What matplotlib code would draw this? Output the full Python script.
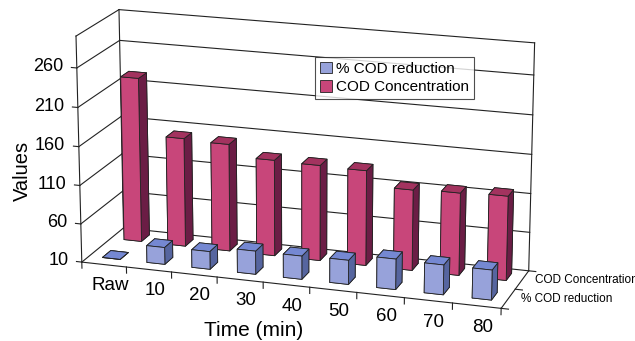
import matplotlib.pyplot as plt
import numpy as np
from matplotlib.patches import Patch

plt.rcParams['font.family'] = ['Liberation Sans', 'DejaVu Sans']

times = ['Raw', '10', '20', '30', '40', '50', '60', '70', '80']
cod_conc = [225, 152, 150, 135, 134, 133, 114, 116, 118]
cod_red = [0, 32, 33, 40, 40, 41, 49, 48, 48]
series = ['% COD reduction', 'COD Concentration']
z_ticks = [10, 60, 110, 160, 210, 260]
z_min, z_max = 10, 300

blue = dict(front='#97A2DA', top='#7588D2', side='#56659F')
pink = dict(front='#C8467A', top='#A3335F', side='#6B1D45')

fig = plt.figure(figsize=(6.35, 3.41), dpi=100)
ax = fig.add_axes([0.077, -0.201, 0.783, 1.457], projection='3d', proj_type='persp', focal_length=1.0)
ax.computed_zorder = False
ax.set_axis_off()
ax.view_init(elev=17, azim=-72)

x0, x1 = -0.5, 8.5
y0, y1 = -0.52, 1.4
ax.set_xlim(x0, x1)
ax.set_ylim(y0, y1)
ax.set_zlim(z_min, z_max)
ax.set_box_aspect((4.4, 1.15, 2.38), zoom=1.0)


def seg(p, q, lw=0.8):
    ax.plot(*zip(p, q), color='#222222', lw=lw, zorder=1, clip_on=False)


# walls and floor
seg((x0, y0, z_min), (x0, y0, z_max))
seg((x0, y0, z_max), (x0, y1, z_max))
seg((x0, y1, z_min), (x0, y1, z_max))
seg((x0, y0, z_min), (x0, y1, z_min))
seg((x0, y1, z_max), (x1, y1, z_max))
seg((x1, y1, z_min), (x1, y1, z_max))
seg((x0, y1, z_min), (x1, y1, z_min))
seg((x0, y0, z_min), (x1, y0, z_min))
seg((x1, y0, z_min), (x1, y1, z_min))

# gridlines on the walls + value ticks
for z in z_ticks[1:]:
    seg((x0, y0, z), (x0, y1, z))
    seg((x0, y1, z), (x1, y1, z))
for z in z_ticks:
    seg((x0 - 0.12, y0, z), (x0, y0, z))
    ax.text(x0 - 0.3, y0, z, str(z), ha='right', va='center', fontsize=13)

# category ticks and labels
for k in range(-1, len(times)):
    seg((k + 0.5, y0, z_min), (k + 0.5, y0, z_min - 8))
for k, lab in enumerate(times):
    ax.text(k + 0.12, y0, z_min - 27, lab, ha='center', va='center', fontsize=13.5)

# series ticks and labels
for yb in (y0, (y0 + y1) / 2, y1):
    seg((x1, yb, z_min), (x1 + 0.15, yb, z_min))
for yi, name in enumerate(series):
    ax.text(x1 + 0.25, yi, z_min, name, ha='left', va='center', fontsize=8.5)

# bars
n = len(times)
xs = np.arange(n)
bw, bd = 0.4, 0.38
bx = np.concatenate([xs, xs]) - bw / 2
by = np.repeat([0, 1], n) - bd / 2
vals = np.array(cod_red + cod_conc, dtype=float)
dz = np.clip(vals - z_min, 0, None)
face_cols = []
for s in [blue] * n + [pink] * n:
    face_cols += [s['top'], s['top'], s['front'], s['front'], s['side'], s['side']]
bars = ax.bar3d(bx, by, np.full(2 * n, z_min), bw, bd, dz, color=face_cols, shade=False,
                edgecolor='#222222', linewidth=0.6, zorder=2)
bars.set_clip_on(False)

fig.text(0.035, 0.5, 'Values', rotation=90, ha='center', va='center', fontsize=14.5)
fig.text(0.40, 0.03, 'Time (min)', ha='center', va='center', fontsize=15)

handles = [Patch(facecolor=blue['front'], edgecolor='#222222', lw=0.6),
           Patch(facecolor=pink['front'], edgecolor='#222222', lw=0.6)]
leg = fig.legend(handles, series, loc='upper left', bbox_to_anchor=(315 / 635, 1 - 57 / 341),
                 fontsize=11, frameon=True, fancybox=False, edgecolor='#222222',
                 handlelength=0.8, handleheight=0.8, handletextpad=0.3,
                 borderpad=0.3, labelspacing=0.3, borderaxespad=0)
leg.get_frame().set_linewidth(0.8)

fig.savefig('out.png', dpi=100)
